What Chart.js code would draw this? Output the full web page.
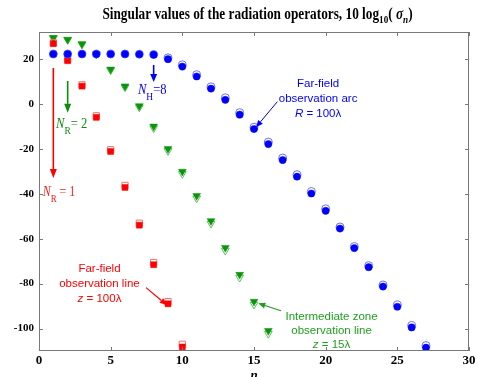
<!DOCTYPE html>
<html><head><meta charset="utf-8">
<script src="https://cdn.jsdelivr.net/npm/chart.js@4.4.0/dist/chart.umd.min.js"></script>
<style>html,body{margin:0;padding:0;background:#fff;overflow:hidden}</style>
</head><body>
<canvas id="c" width="478" height="377"></canvas>
<script>
// ---- data ----
const nArc = [1,2,3,4,5,6,7,8,9,10,11,12,13,14,15,16,17,18,19,20,21,22,23,24,25,26,27];
const arcFilled = [22.2,22.2,22.2,22.2,22.2,22.2,22.1,21.9,19.9,16.6,12.2,6.8,1.8,-4.8,-11.2,-17.9,-25.0,-32.4,-39.9,-47.6,-55.5,-64.2,-72.7,-81.3,-90.3,-99.5,-108.5];
const arcOpen   = [22.2,22.2,22.2,22.2,22.2,22.2,22.1,22.0,20.5,17.4,13.0,7.6,2.7,-3.9,-10.4,-17.0,-24.1,-31.5,-39.0,-46.7,-54.8,-63.5,-72.0,-80.6,-89.4,-98.6,-107.6];
const nInter = [1,2,3,4,5,6,7,8,9,10,11,12,13,14,15,16];
const interFilled = [29.4,28.6,26.7,22.2,15.4,7.9,-0.9,-10.0,-20.0,-30.1,-40.9,-52.1,-64.0,-76.0,-88.0,-101.0];
const interOpen   = [29.4,28.6,26.5,22.0,15.0,7.4,-1.5,-10.8,-20.9,-31.1,-42.0,-53.3,-65.3,-77.3,-89.3,-102.3];
const nFar = [1,2,3,4,5,6,7,8,9,10];
const farFilled = [26.8,19.2,7.9,-6.0,-21.2,-37.2,-54.0,-71.6,-89.0,-108.2];
const farOpen   = [27.2,19.8,8.5,-5.3,-20.4,-36.3,-53.1,-70.6,-88.0,-107.0];
const xTicks = [0,5,10,15,20,25,30];
const yTicks = [-100,-80,-60,-40,-20,0,20];
const xRange = [0,30];
const yRange = [-110,32];

const SERIF = '"Liberation Serif","Times New Roman",serif';
const SANS = '"Liberation Sans",Arial,sans-serif';

function pts(xs, ys){ return xs.map((x,i)=>({x:x, y:ys[i]})); }

function drawRich(ctx, x, y, segs, align, color, sx){
  sx = sx || 1;
  let w = 0;
  segs.forEach(s=>{ ctx.font = s.font; s.w = ctx.measureText(s.t).width; w += s.w + (s.dx||0); });
  ctx.save();
  ctx.translate(x, y); ctx.scale(sx, 1);
  let cx = align==='center' ? -w/2 : (align==='right' ? -w : 0);
  ctx.fillStyle = color; ctx.textBaseline = 'alphabetic'; ctx.textAlign = 'left';
  segs.forEach(s=>{ ctx.font = s.font; cx += (s.dx||0); ctx.fillText(s.t, cx, (s.dy||0)); cx += s.w; });
  ctx.restore();
}

function arrow(ctx, x0, y0, x1, y1, color, lw, hl, hw){
  const ang = Math.atan2(y1-y0, x1-x0);
  const bx = x1 - hl*Math.cos(ang), by = y1 - hl*Math.sin(ang);
  ctx.strokeStyle = color; ctx.lineWidth = lw;
  ctx.beginPath(); ctx.moveTo(x0,y0); ctx.lineTo(bx,by); ctx.stroke();
  ctx.fillStyle = color;
  ctx.beginPath();
  ctx.moveTo(x1,y1);
  ctx.lineTo(bx + hw*Math.sin(ang), by - hw*Math.cos(ang));
  ctx.lineTo(bx - hw*Math.sin(ang), by + hw*Math.cos(ang));
  ctx.closePath(); ctx.fill();
}

const deco = {
  id: 'deco',
  afterDraw(chart){
    const ctx = chart.ctx, a = chart.chartArea, X = chart.scales.x, Y = chart.scales.y;
    const px = v => X.getPixelForValue(v), py = v => Y.getPixelForValue(v);
    ctx.save();
    // frame
    ctx.strokeStyle = '#787878'; ctx.lineWidth = 1;
    ctx.strokeRect(a.left+0.5, a.top+0.5, a.right-a.left-1, a.bottom-a.top-1);
    // inward ticks
    ctx.beginPath();
    xTicks.forEach(v=>{ const p = Math.round(px(v))+0.5;
      ctx.moveTo(p, a.bottom); ctx.lineTo(p, a.bottom-4);
      ctx.moveTo(p, a.top); ctx.lineTo(p, a.top+4); });
    yTicks.forEach(v=>{ const p = Math.round(py(v))+0.5;
      ctx.moveTo(a.left, p); ctx.lineTo(a.left+4, p);
      ctx.moveTo(a.right, p); ctx.lineTo(a.right-4, p); });
    ctx.stroke();

    // title
    drawRich(ctx, 257.5, 19, [
      {t:'Singular values of the radiation operators, 10 log', font:'bold 16px '+SERIF},
      {t:'10', font:'bold 11px '+SERIF, dy:4},
      {t:'( ', font:'bold 16px '+SERIF},
      {t:'\u03C3', font:'italic bold 16px '+SERIF},
      {t:'n', font:'italic bold 11px '+SERIF, dy:4},
      {t:')', font:'bold 16px '+SERIF}
    ], 'center', '#000', 0.83);
    // x axis title
    drawRich(ctx, px(15), 379, [{t:'n', font:'italic bold 13px '+SERIF}], 'center', '#000');

    // N_R = 1 (red)
    arrow(ctx, px(1), py(16), px(1), py(-33), '#ff0000', 1.6, 9, 3.5);
    drawRich(ctx, px(0.26), py(-41), [
      {t:'N', font:'italic 14px '+SERIF},
      {t:'R', font:'10.5px '+SERIF, dy:6},
      {t:' = 1', font:'14px '+SERIF}
    ], 'left', '#ff1a1a', 0.85);
    // N_R = 2 (green)
    arrow(ctx, px(2), py(10.2), px(2), py(-4), '#108a10', 1.6, 9, 3.5);
    drawRich(ctx, px(1.19), py(-10.7), [
      {t:'N', font:'italic 14px '+SERIF},
      {t:'R', font:'10.5px '+SERIF, dy:6},
      {t:'= 2', font:'14px '+SERIF}
    ], 'left', '#108a10', 0.9);
    // N_H = 8 (blue)
    arrow(ctx, px(8), py(17.3), px(8), py(9.7), '#0000ff', 1.6, 8, 3.5);
    drawRich(ctx, px(6.9), py(4.6), [
      {t:'N', font:'italic 14px '+SERIF},
      {t:'H', font:'10.5px '+SERIF, dy:6},
      {t:'=8', font:'14px '+SERIF}
    ], 'left', '#0000ff', 0.9);

    // Far-field arc text (blue)
    ctx.font = '11.5px '+SANS; ctx.textAlign='center'; ctx.fillStyle='#0000ff';
    ctx.fillText('Far-field', px(19.47), py(7.5));
    ctx.fillText('observation arc', px(19.47), py(0.8));
    drawRich(ctx, px(19.47), py(-5.8), [
      {t:'R', font:'italic 11.5px '+SANS},
      {t:' = 100\u03BB', font:'11.5px '+SANS}
    ], 'center', '#0000ff');
    arrow(ctx, px(16.63), py(1.0), px(15.14), py(-10.4), '#0000ff', 1, 7, 3);

    // Far-field line text (red)
    ctx.font = '11.5px '+SANS; ctx.textAlign='center'; ctx.fillStyle='#ff0000';
    ctx.fillText('Far-field', px(4.22), py(-74.8));
    ctx.fillText('observation line', px(4.22), py(-81.5));
    drawRich(ctx, px(4.22), py(-88.2), [
      {t:'z', font:'italic 11.5px '+SANS},
      {t:' = 100\u03BB', font:'11.5px '+SANS}
    ], 'center', '#ff0000');
    arrow(ctx, px(7.47), py(-81.8), px(8.91), py(-89.5), '#ff0000', 1.2, 7, 3);

    // Intermediate zone text (green)
    ctx.font = '11.5px '+SANS; ctx.textAlign='center'; ctx.fillStyle='#1f9f1f';
    ctx.fillText('Intermediate zone', px(20.41), py(-96.2));
    ctx.fillText('observation line', px(20.41), py(-102.4));
    drawRich(ctx, px(20.41), py(-108.8), [
      {t:'z', font:'italic 11.5px '+SANS},
      {t:' = 15\u03BB', font:'11.5px '+SANS}
    ], 'center', '#1f9f1f');
    arrow(ctx, px(16.88), py(-92.1), px(15.3), py(-88.8), '#1f9f1f', 1.2, 7, 3);
    ctx.restore();
  }
};

const tickFontX = {family: SERIF, weight:'bold', size:13};
const tickFontY = {family: SERIF, weight:'bold', size:11};

new Chart(document.getElementById('c'), {
  type: 'scatter',
  data: { datasets: [
    {data: pts(nArc, arcOpen), pointStyle:'circle', pointRadius:4, backgroundColor:'rgba(255,255,255,0)', borderColor:'#7070ff', pointBorderWidth:1, order:1},
    {data: pts(nArc, arcFilled), pointStyle:'circle', pointRadius:3.6, backgroundColor:'#0000ff', borderColor:'#0000ff', pointBorderWidth:0.5, order:0},
    {data: pts(nInter, interOpen), pointStyle:'triangle', rotation:180, pointRadius:4.5, backgroundColor:'rgba(255,255,255,0)', borderColor:'#60c060', pointBorderWidth:1, order:5},
    {data: pts(nInter, interFilled), pointStyle:'triangle', rotation:180, pointRadius:4.5, backgroundColor:'#0a960a', borderColor:'#0a960a', pointBorderWidth:0.5, order:4},
    {data: pts(nFar, farOpen), pointStyle:'rect', pointRadius:4.4, backgroundColor:'rgba(255,255,255,0)', borderColor:'#ff7070', pointBorderWidth:1, order:3},
    {data: pts(nFar, farFilled), pointStyle:'rect', pointRadius:4.2, backgroundColor:'#ff0000', borderColor:'#ff0000', pointBorderWidth:0.5, order:2}
  ]},
  options: {
    responsive:false, animation:false, devicePixelRatio:1,
    layout:{padding:{left:0, right:9, top:32, bottom:0}},
    plugins:{legend:{display:false}, tooltip:{enabled:false}, title:{display:false}},
    scales:{
      x:{type:'linear', min:xRange[0], max:xRange[1],
         afterBuildTicks: s=>{ s.ticks = xTicks.map(v=>({value:v})); },
         afterFit: s=>{ s.height = 26; },
         grid:{display:false, drawTicks:false}, border:{display:false},
         ticks:{font:tickFontX, color:'#000', padding:2, maxRotation:0, autoSkip:false}},
      y:{type:'linear', min:yRange[0], max:yRange[1],
         afterBuildTicks: s=>{ s.ticks = yTicks.map(v=>({value:v})); },
         afterFit: s=>{ s.width = 39; },
         grid:{display:false, drawTicks:false}, border:{display:false},
         ticks:{font:tickFontY, color:'#000', padding:5, autoSkip:false}}
    }
  },
  plugins:[deco]
});
</script>
</body></html>
